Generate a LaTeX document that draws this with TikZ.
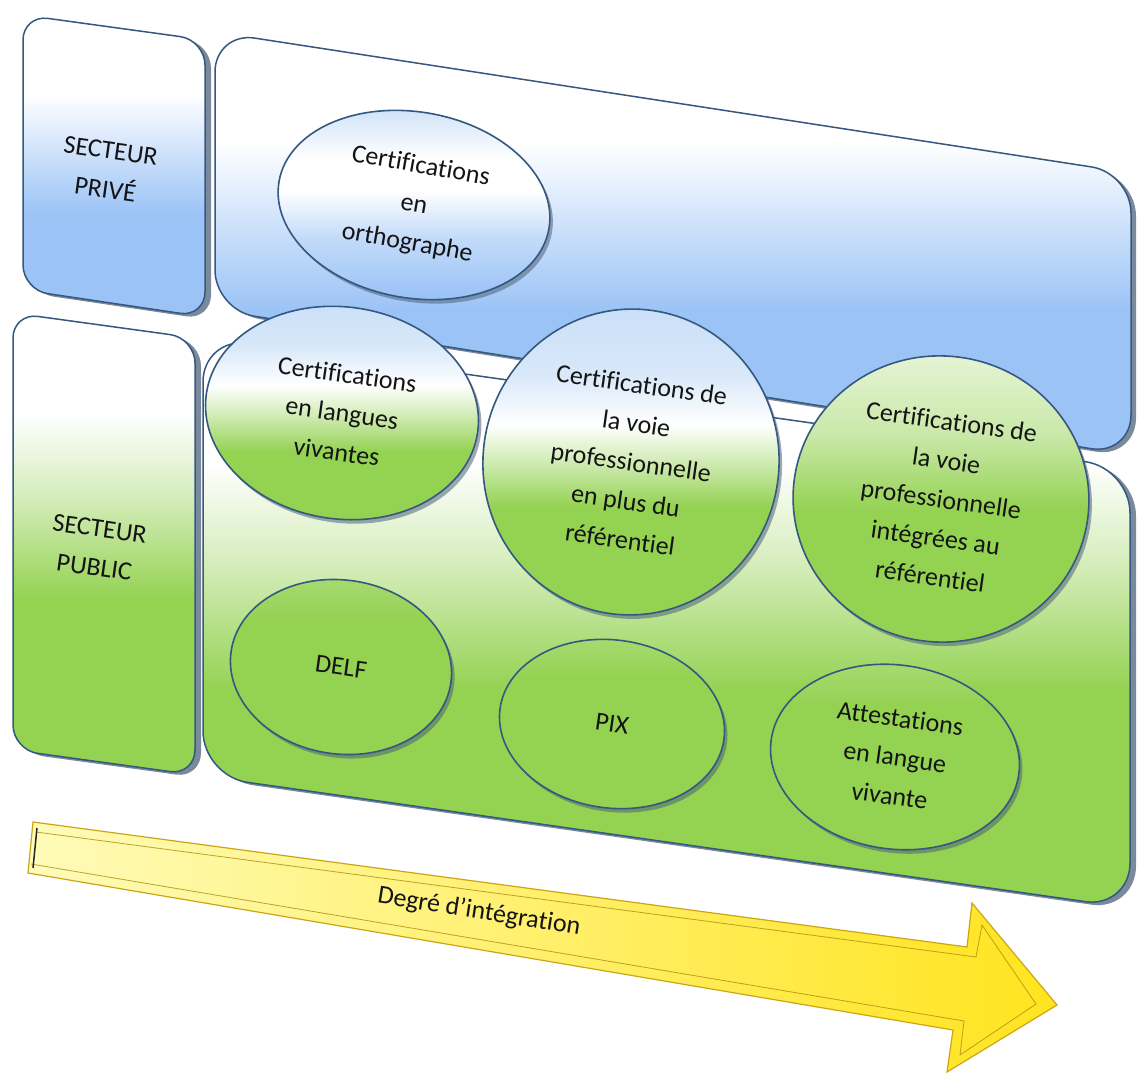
\documentclass[tikz,border=0pt]{standalone}
\usepackage{fontspec}
\setmainfont{Carlito}[Ligatures=NoCommon]
\usetikzlibrary{shapes.geometric,shadows}
\definecolor{lb}{RGB}{155,195,246}
\definecolor{pb}{RGB}{200,222,247}
\definecolor{gr}{RGB}{148,210,82}
\definecolor{edge}{RGB}{52,88,128}
\definecolor{shd}{RGB}{78,98,122}
\definecolor{txt}{RGB}{20,20,20}
\definecolor{ylA}{RGB}{255,251,185}
\definecolor{ylB}{RGB}{255,228,30}
\definecolor{ylE}{RGB}{205,165,20}
% vertical shadings: path spans 25bp (bottom) .. 75bp (top)
\pgfdeclareverticalshading{boxblue}{100bp}{color(0bp)=(lb); color(25bp)=(lb); color(42bp)=(lb); color(62bp)=(white); color(100bp)=(white)}
\pgfdeclareverticalshading{boxgreen}{100bp}{color(0bp)=(gr); color(25bp)=(gr); color(44bp)=(gr); color(55bp)=(gr!40!white); color(64bp)=(white); color(100bp)=(white)}
\pgfdeclareverticalshading{orthoshade}{100bp}{color(0bp)=(lb); color(25bp)=(lb); color(40bp)=(lb!60!white); color(52bp)=(white); color(60bp)=(white); color(75bp)=(pb); color(100bp)=(pb)}
\pgfdeclareverticalshading{langshade}{100bp}{color(0bp)=(gr); color(25bp)=(gr); color(40bp)=(gr); color(48bp)=(gr!45!white); color(55bp)=(white); color(64bp)=(pb!70!white); color(75bp)=(pb); color(100bp)=(pb)}
\pgfdeclareverticalshading{plusshade}{100bp}{color(0bp)=(gr); color(25bp)=(gr); color(42bp)=(gr); color(49bp)=(gr!45!white); color(55bp)=(white); color(63bp)=(pb!70!white); color(75bp)=(pb); color(100bp)=(pb)}
\pgfdeclareverticalshading{integshade}{100bp}{color(0bp)=(gr); color(25bp)=(gr); color(47bp)=(gr); color(60bp)=(gr!50!white); color(75bp)=(gr!22!white); color(100bp)=(gr!22!white)}
\pgfdeclareverticalshading{greenshade}{100bp}{color(0bp)=(gr); color(25bp)=(gr); color(62bp)=(gr); color(75bp)=(gr!80!white); color(100bp)=(gr!80!white)}
\begin{document}
\begin{tikzpicture}[x=1pt,y=-1pt,
  lbl/.style={font=\fontsize{26}{39}\selectfont, text=txt, align=center, inner sep=0pt},
  bubble/.style={ellipse, draw=edge, line width=1.6pt, shade, inner sep=0pt, rotate=-8,
    font=\fontsize{26}{39}\selectfont, text=txt, align=center,
    drop shadow={shadow xshift=3pt, shadow yshift=-4pt, fill=shd, opacity=0.55}},
  panel/.style={draw=edge, line width=1.5pt, shade},
  bevel/.style={fill=shd, opacity=0.75}
]
\useasboundingbox (0,0) rectangle (1138,1073);
\fill[white] (0,0) rectangle (1138,1073);

% ---- SECTEUR PRIVE panel
\fill[bevel, rounded corners=25pt] (29,18) -- (211,43) -- (211,320) -- (29,293) -- cycle;
\path[panel, shading=boxblue, rounded corners=25pt] (23,15) -- (205,40) -- (205,317) -- (23,290) -- cycle;
% ---- big blue panel
\fill[bevel, rounded corners=40pt] (221,35) -- (1136,176) -- (1136,458) -- (221,313) -- cycle;
\path[panel, shading=boxblue, rounded corners=40pt] (215,32) -- (1131,173) -- (1131,455) -- (215,310) -- cycle;
% ---- SECTEUR PUBLIC panel
\fill[bevel, rounded corners=25pt] (19,316) -- (201,341) -- (201,778) -- (19,753) -- cycle;
\path[panel, shading=boxgreen, rounded corners=25pt] (13,313) -- (195,338) -- (195,775) -- (13,750) -- cycle;
% ---- big green panel
\fill[bevel, rounded corners=45pt] (209,340) -- (1136,471) -- (1136,911) -- (209,779) -- cycle;
\path[panel, shading=boxgreen, rounded corners=45pt] (203,337) -- (1130,468) -- (1130,908) -- (203,776) -- cycle;

\node[lbl, rotate=-8] (prive) at (108,170) {SECTEUR\\PRIVÉ};
\node[lbl, rotate=-8] (public) at (97,548) {SECTEUR\\PUBLIC};

% ---- bubbles
\node[bubble, shading=orthoshade, minimum width=274pt, minimum height=186pt, rotate=-2] (ortho) at (414,205) {Certifications\\en\\orthographe};
\node[bubble, shading=langshade, minimum width=274pt, minimum height=212pt] (langues) at (342,413) {Certifications\\en langues\\vivantes};
\node[bubble, shading=plusshade, minimum width=296pt, minimum height=306pt] (plus) at (631,462) {Certifications de\\la voie\\professionnelle\\en plus du\\référentiel};
\node[bubble, shading=integshade, minimum width=296pt, minimum height=286pt] (integ) at (941,499) {Certifications de\\la voie\\professionnelle\\intégrées au\\référentiel};
\node[bubble, shading=greenshade, minimum width=222pt, minimum height=174pt] (delf) at (341,667) {DELF};
\node[bubble, shading=greenshade, minimum width=226pt, minimum height=168pt] (pix) at (612,724) {PIX};
\node[bubble, shading=greenshade, minimum width=250pt, minimum height=184pt] (attest) at (895,757) {Attestations\\en langue\\vivante};

% ---- arrow
\path[draw=ylE, line width=1.2pt, left color=ylA, right color=ylB]
  (33,822) -- (967,947) -- (972,903) -- (1057,1005) -- (947,1072) -- (953,1030) -- (28,873) -- cycle;
\draw[ylE!85!black, line width=0.8pt, opacity=0.8]
  (36,832) -- (976,957) -- (982,925) -- (1036,1004) -- (960,1055) -- (964,1021) -- (31,864);
\draw[black!85, line width=1.5pt] (37,828) -- (33,868);
\node[lbl, rotate=-9] (degre) at (479,912) {Degré d’intégration};
\end{tikzpicture}
\end{document}
